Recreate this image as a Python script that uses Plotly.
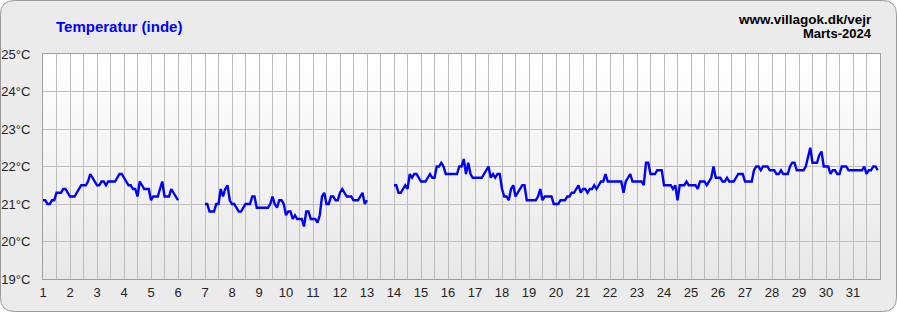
import plotly.graph_objects as go

# ---- data: indoor temperature, 2-hourly samples (00,02,...,22 h) per day ----
hours = [0, 2, 4, 6, 8, 10, 12, 14, 16, 18, 20, 22]
N = None
d01 = [21.1, 21.1, 21.0, 21.0, 21.1, 21.1, 21.3, 21.3, 21.3, 21.4, 21.4, 21.3]
d02 = [21.2, 21.2, 21.2, 21.3, 21.4, 21.5, 21.5, 21.5, 21.6, 21.8, 21.7, 21.6]
d03 = [21.5, 21.5, 21.6, 21.6, 21.5, 21.6, 21.6, 21.6, 21.6, 21.7, 21.8, 21.8]
d04 = [21.7, 21.6, 21.5, 21.5, 21.4, 21.4, 21.2, 21.6, 21.5, 21.4, 21.4, 21.4]
d05 = [21.1, 21.2, 21.2, 21.2, 21.4, 21.6, 21.2, 21.2, 21.2, 21.4, 21.3, 21.2]
d06 = [21.1, N, N, N, N, N, N, N, N, N, N, N]
d07 = [21.0, 21.0, 20.8, 20.8, 20.8, 21.0, 21.0, 21.4, 21.2, 21.4, 21.5, 21.1]
d08 = [21.0, 21.0, 20.9, 20.8, 20.8, 20.9, 21.0, 21.0, 21.0, 21.2, 21.2, 20.9]
d09 = [20.9, 20.9, 20.9, 20.9, 20.9, 21.0, 21.2, 21.0, 20.9, 21.1, 21.1, 21.0]
d10 = [20.7, 20.8, 20.8, 20.6, 20.7, 20.6, 20.6, 20.6, 20.4, 20.8, 20.8, 20.6]
d11 = [20.6, 20.6, 20.5, 20.7, 21.2, 21.3, 21.0, 21.0, 21.2, 21.2, 21.1, 21.1]
d12 = [21.3, 21.4, 21.3, 21.2, 21.2, 21.2, 21.1, 21.1, 21.1, 21.2, 21.3, 21.0]
d13 = [21.1, N, N, N, N, N, N, N, N, N, N, N]
d14 = [21.5, 21.5, 21.3, 21.3, 21.4, 21.5, 21.4, 21.8, 21.7, 21.8, 21.8, 21.7]
d15 = [21.6, 21.6, 21.6, 21.7, 21.8, 21.7, 21.7, 22.0, 22.0, 22.1, 22.0, 21.8]
d16 = [21.8, 21.8, 21.8, 21.8, 21.8, 22.0, 22.0, 22.2, 21.8, 22.1, 21.8, 21.7]
d17 = [21.7, 21.7, 21.7, 21.7, 21.8, 21.9, 22.0, 21.7, 21.8, 21.7, 21.8, 21.8]
d18 = [21.4, 21.2, 21.2, 21.1, 21.4, 21.5, 21.2, 21.3, 21.4, 21.5, 21.5, 21.1]
d19 = [21.1, 21.1, 21.1, 21.1, 21.2, 21.4, 21.1, 21.2, 21.2, 21.2, 21.2, 21.0]
d20 = [21.0, 21.0, 21.1, 21.1, 21.1, 21.2, 21.2, 21.3, 21.3, 21.4, 21.5, 21.3]
d21 = [21.4, 21.4, 21.3, 21.4, 21.4, 21.5, 21.4, 21.5, 21.6, 21.6, 21.8, 21.6]
d22 = [21.6, 21.6, 21.6, 21.6, 21.6, 21.6, 21.3, 21.6, 21.7, 21.8, 21.6, 21.6]
d23 = [21.6, 21.6, 21.6, 21.5, 22.1, 22.1, 21.8, 21.8, 21.8, 21.9, 21.9, 21.9]
d24 = [21.5, 21.5, 21.5, 21.5, 21.4, 21.5, 21.1, 21.5, 21.5, 21.5, 21.6, 21.5]
d25 = [21.5, 21.5, 21.5, 21.4, 21.6, 21.6, 21.6, 21.5, 21.6, 21.7, 22.0, 21.7]
d26 = [21.7, 21.7, 21.6, 21.6, 21.7, 21.6, 21.6, 21.6, 21.7, 21.8, 21.8, 21.8]
d27 = [21.6, 21.6, 21.6, 21.6, 21.9, 22.0, 22.0, 21.9, 22.0, 22.0, 22.0, 21.9]
d28 = [21.9, 21.9, 21.8, 21.8, 21.9, 21.8, 21.8, 21.8, 22.0, 22.1, 22.1, 21.9]
d29 = [21.9, 21.9, 21.9, 22.0, 22.3, 22.5, 22.1, 22.1, 22.1, 22.3, 22.4, 22.0]
d30 = [22.0, 22.0, 21.8, 21.9, 21.9, 21.8, 21.8, 22.0, 22.0, 22.0, 21.9, 21.9]
d31 = [21.9, 21.9, 21.9, 21.9, 21.9, 22.0, 21.8, 21.9, 21.9, 22.0, 22.0, 21.9]

days = [d01, d02, d03, d04, d05, d06, d07, d08, d09, d10, d11, d12, d13, d14, d15, d16,
        d17, d18, d19, d20, d21, d22, d23, d24, d25, d26, d27, d28, d29, d30, d31]

y_ticks = [19, 20, 21, 22, 23, 24, 25]
y_labels = ["19°C", "20°C", "21°C", "22°C", "23°C", "24°C", "25°C"]
x_ticks = list(range(1, 32))
x_labels = [str(d) for d in x_ticks]

title = "Temperatur (inde)"
site = "www.villagok.dk/vejr"
month = "Marts-2024"

# ---- build series ----
xs, ys = [], []
for i, vals in enumerate(days):
    for h, v in zip(hours, vals):
        xs.append(i + 1 + h / 24)
        ys.append(v)

W, H = 897, 312
ML, MR, MT, MB = 43, 17, 54, 33
PW, PH = W - ML - MR, H - MT - MB


def px(x):
    return (x - ML) / PW


def py(y):
    return (H - MB - y) / PH


fig = go.Figure()
fig.add_trace(go.Scatter(x=xs, y=ys, mode="lines", connectgaps=False,
                         line=dict(color="#0000FF", width=2.4), hoverinfo="skip"))

shapes = []
# outer rounded panel
r = 14
x0, x1 = px(0.5), px(W - 0.5)
y0, y1 = py(H - 0.5), py(0.5)
rx, ry = r / PW, r / PH
path = (f"M {x0+rx},{y1} L {x1-rx},{y1} Q {x1},{y1} {x1},{y1-ry} "
        f"L {x1},{y0+ry} Q {x1},{y0} {x1-rx},{y0} L {x0+rx},{y0} "
        f"Q {x0},{y0} {x0},{y0+ry} L {x0},{y1-ry} Q {x0},{y1} {x0+rx},{y1} Z")
shapes.append(dict(type="path", path=path, xref="paper", yref="paper",
                   fillcolor="#EBEBEB", line=dict(color="#9A9A9A", width=1), layer="below"))
# plot area gradient (white top -> light grey bottom)
nb = 45
for k in range(nb):
    t = k / (nb - 1)
    c = int(round(255 - t * (255 - 232)))
    shapes.append(dict(type="rect", xref="paper", yref="paper",
                       x0=0, x1=1, y0=1 - (k + 1) / nb, y1=1 - k / nb,
                       fillcolor=f"rgb({c},{c},{c})", line=dict(width=0), layer="below"))
fig.update_layout(shapes=shapes)

fig.add_annotation(text=f"<b>{title}</b>", xref="paper", yref="paper",
                   x=px(54), y=py(26), xanchor="left", yanchor="middle", showarrow=False,
                   font=dict(family="Liberation Sans, Arial", size=15, color="#0000FF"))
fig.add_annotation(text=f"<b>{site}</b>", xref="paper", yref="paper",
                   x=px(874), y=py(19), xanchor="right", yanchor="middle", showarrow=False,
                   font=dict(family="Liberation Sans, Arial", size=13.5, color="#000000"))
fig.add_annotation(text=f"<b>{month}</b>", xref="paper", yref="paper",
                   x=px(874), y=py(33), xanchor="right", yanchor="middle", showarrow=False,
                   font=dict(family="Liberation Sans, Arial", size=13, color="#000000"))

fig.update_xaxes(range=[1, 32], tickmode="array", tickvals=x_ticks, ticktext=x_labels,
                 showgrid=True, gridcolor="#BDBDBD", gridwidth=1, automargin=False,
                 minor=dict(dtick=0.5, tick0=1, showgrid=True, gridcolor="#BDBDBD", gridwidth=1),
                 showline=True, linecolor="#A0A0A0", linewidth=1, mirror=True,
                 ticks="outside", ticklen=1, tickcolor="rgba(0,0,0,0)", zeroline=False,
                 tickfont=dict(family="Liberation Sans, Arial", size=13, color="#222222"))
fig.update_yaxes(range=[19, 25], tickmode="array", tickvals=y_ticks, ticktext=y_labels,
                 showgrid=True, gridcolor="#BDBDBD", gridwidth=1, automargin=False,
                 showline=True, linecolor="#A0A0A0", linewidth=1, mirror=True,
                 ticks="outside", ticklen=9, tickcolor="rgba(0,0,0,0)", zeroline=False,
                 tickfont=dict(family="Liberation Sans, Arial", size=13, color="#222222"))

fig.update_layout(width=W, height=H, margin=dict(l=ML, r=MR, t=MT, b=MB),
                  paper_bgcolor="#FFFFFF", plot_bgcolor="rgba(0,0,0,0)",
                  showlegend=False)

fig.write_html("out.html", config={"displayModeBar": False})
